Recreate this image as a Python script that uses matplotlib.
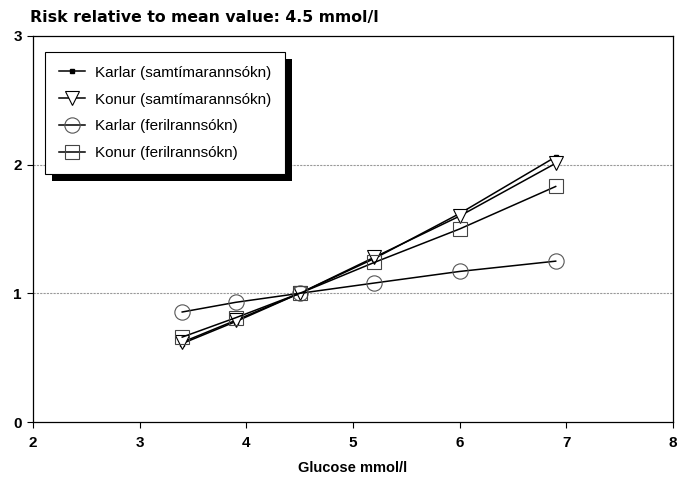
import matplotlib
matplotlib.use("Agg")
import matplotlib.pyplot as plt
from matplotlib.patches import Rectangle

x = [3.4, 3.9, 4.5, 5.2, 6.0, 6.9]
karlar_samt = [0.61, 0.78, 1.0, 1.27, 1.62, 2.06]
konur_samt = [0.62, 0.79, 1.0, 1.28, 1.60, 2.01]
karlar_feril = [0.855, 0.93, 1.0, 1.08, 1.17, 1.25]
konur_feril = [0.66, 0.81, 1.0, 1.24, 1.50, 1.83]
labels = ["Karlar (samtímarannsókn)", "Konur (samtímarannsókn)",
          "Karlar (ferilrannsókn)", "Konur (ferilrannsókn)"]
xticks = [2, 3, 4, 5, 6, 7, 8]
yticks = [0, 1, 2, 3]

plt.rcParams['font.family'] = ['Liberation Sans', 'DejaVu Sans']

fig = plt.figure(figsize=(6.84, 4.78), dpi=100)
ax = fig.add_axes([0.048, 0.117, 0.936, 0.808])

ax.axhline(1, color='#999999', lw=0.8, ls=(0, (2, 1)), zorder=0)
ax.axhline(2, color='#999999', lw=0.8, ls=(0, (2, 1)), zorder=0)

ax.plot(x, karlar_samt, color='black', lw=1.1, marker='s', ms=3, mfc='black', label=labels[0])
ax.plot(x, konur_samt, color='black', lw=1.1, marker='v', ms=10, mfc='white', mew=0.8, label=labels[1])
ax.plot(x, karlar_feril, color='black', lw=1.1, marker='o', ms=11, mfc='none', mew=0.8, mec='#555555', label=labels[2])
ax.plot(x, konur_feril, color='black', lw=1.1, marker='s', ms=10, mfc='none', mew=0.8, mec='#444444', label=labels[3])

ax.set_xlim(2, 8)
ax.set_ylim(0, 3)
ax.set_xticks(xticks)
ax.set_yticks(yticks)
for lab in ax.get_xticklabels() + ax.get_yticklabels():
    lab.set_fontweight('bold')
    lab.set_fontsize(11)
ax.tick_params(axis='x', direction='out', length=4, width=0.8, pad=6)
ax.tick_params(axis='y', direction='out', length=4, width=0.8, pad=4)
for s in ax.spines.values():
    s.set_linewidth(0.9)

ax.set_xlabel("Glucose mmol/l", fontsize=10.5, fontweight='bold', labelpad=8)
fig.text(0.044, 0.963, "Risk relative to mean value: 4.5 mmol/l", fontsize=11.3,
         fontweight='bold', ha='left', va='center', family='DejaVu Sans')

leg = ax.legend(loc='upper left', bbox_to_anchor=(0.007, 0.978), fancybox=False,
                framealpha=1, edgecolor='black',
                handlelength=1.75, labelspacing=0.84, borderpad=0.9, handletextpad=0.6,
                prop={'family': ['Liberation Sans Narrow', 'Liberation Sans'], 'size': 11})
leg.get_frame().set_linewidth(0.8)
leg.set_zorder(5)

fig.canvas.draw()
bb = leg.get_frame().get_window_extent(fig.canvas.get_renderer())
off = 7
shadow = Rectangle((bb.x0 + off, bb.y0 - off), bb.width, bb.height, transform=None,
                   facecolor='black', edgecolor='none', zorder=4)
ax.add_artist(shadow)

fig.savefig("out.png", dpi=100)
